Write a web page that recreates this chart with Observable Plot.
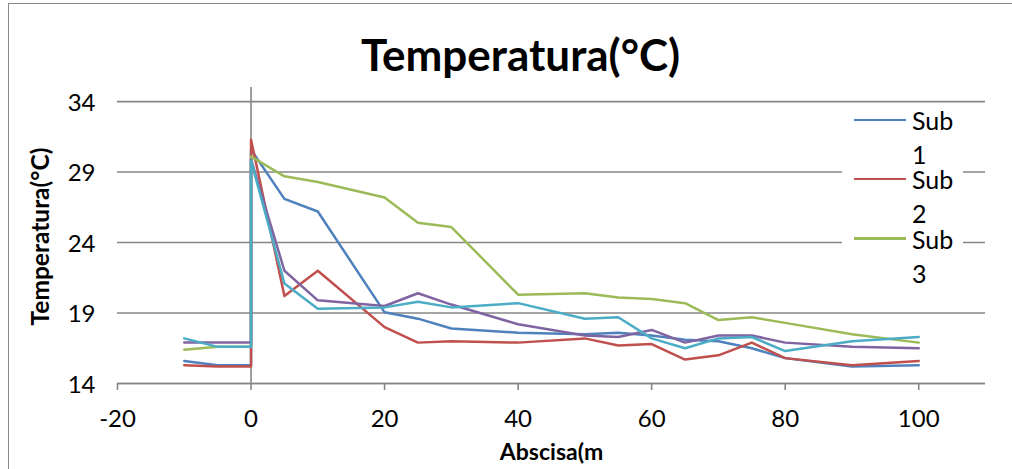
<!DOCTYPE html>
<html>
<head>
<meta charset="utf-8">
<script src="https://cdn.jsdelivr.net/npm/d3@7"></script>
<script src="https://cdn.jsdelivr.net/npm/@observablehq/plot@0.6"></script>
<style>
  html, body { margin: 0; padding: 0; background: #fff; overflow: hidden; width: 1012px; height: 469px; }
  #chart { position: relative; width: 1012px; height: 469px; font-family: Lato, "Open Sans", sans-serif; }
  #chart svg { position: absolute; left: 0; top: 0; }
  #border { position: absolute; left: 8px; top: 3px; width: 1100px; height: 600px;
            border-left: 1.5px solid #8a8a8a; border-top: 1.5px solid #8a8a8a; }
  #legend { position: absolute; left: 842px; top: 104px; width: 121px; height: 186px; background: #fff; }
  .swatch { position: absolute; left: 12px; width: 52px; height: 2.5px; }
  .name { position: absolute; left: 70px; width: 48px; font-size: 25px; line-height: 34px; color: #000; }
</style>
</head>
<body>
<div id="chart"><div id="border"></div></div>
<script>
// Distance along the section (m); the profile is sampled twice at 0 m
const abscisa = [-10, -5, 0, 0, 5, 10, 20, 25, 30, 40, 50, 55, 60, 65, 70, 75, 80, 90, 100];

// Temperature (°C) of each substation along the section
const sub1 = [15.6, 15.3, 15.3, 30.6, 27.1, 26.2, 19.05, 18.6, 17.9, 17.6, 17.5, 17.6, 17.4, 17.1, 17.0, 16.5, 15.8, 15.2, 15.3];
const sub2 = [15.3, 15.2, 15.2, 31.3, 20.2, 22.0, 18.0, 16.9, 17.0, 16.9, 17.2, 16.7, 16.8, 15.7, 16.0, 16.9, 15.8, 15.3, 15.6];
const sub3 = [16.4, 16.6, 16.6, 30.1, 28.7, 28.3, 27.2, 25.4, 25.1, 20.3, 20.4, 20.1, 20.0, 19.7, 18.5, 18.7, 18.3, 17.5, 16.9];
const sub4 = [16.9, 16.9, 16.9, 29.9, 22.0, 19.9, 19.5, 20.4, 19.6, 18.2, 17.4, 17.3, 17.8, 16.9, 17.4, 17.4, 16.9, 16.6, 16.5];
const sub5 = [17.2, 16.6, 16.6, 29.8, 21.1, 19.3, 19.4, 19.8, 19.4, 19.7, 18.6, 18.7, 17.2, 16.5, 17.2, 17.3, 16.3, 17.0, 17.3];

const seriesNames = ["Sub 1", "Sub 2", "Sub 3", "Sub 4", "Sub 5"];
const seriesColors = ["#4f81bd", "#c0504d", "#9bbb59", "#8064a2", "#4bacc6"];
const legendNames = seriesNames.slice(0, 3);

const yTicks = [14, 19, 24, 29, 34];
const xTicks = [-20, 0, 20, 40, 60, 80, 100];

const chartTitle = "Temperatura(°C)";
const yTitle = "Temperatura(°C)";
const xTitle = "Abscisa(m";

const seriesValues = [sub1, sub2, sub3, sub4, sub5];
const rows = seriesValues.flatMap((vals, s) =>
  vals.map((t, i) => ({series: seriesNames[s], x: abscisa[i], t}))
);

const gray = "#868686";
const plain = d => String(d);

const plot = Plot.plot({
  width: 1012,
  height: 469,
  marginLeft: 117,
  marginRight: 27,
  marginTop: 87,
  marginBottom: 86,
  style: {fontFamily: "Lato, 'Open Sans', sans-serif", fontSize: "23px", color: "#000", background: "transparent"},
  x: {domain: [-20, 110]},
  y: {domain: [14, 35]},
  color: {domain: seriesNames, range: seriesColors},
  marks: [
    Plot.gridY(yTicks, {stroke: gray, strokeOpacity: 1, strokeWidth: 1.6}),
    Plot.axisY(yTicks, {tickSize: 0, tickPadding: 22, dy: 1.5, label: null, fontSize: 24, fill: "#000", tickFormat: plain}),
    Plot.ruleY([14], {stroke: gray, strokeWidth: 1.6}),
    Plot.axisX(xTicks, {tickSize: 7, tickPadding: 19, stroke: gray, strokeWidth: 1.6, label: null, fontSize: 24, fill: "#000", tickFormat: plain}),
    Plot.ruleX([0], {stroke: gray, strokeWidth: 1.6}),
    Plot.line(rows, {x: "x", y: "t", z: "series", stroke: "series", strokeWidth: 2.5, strokeLinejoin: "round", sort: null}),
    Plot.text([chartTitle], {frameAnchor: "top", lineAnchor: "middle", textAnchor: "middle", dx: -31, dy: -31, fontSize: 44, fontWeight: "bold", fill: "#000"}),
    Plot.text([yTitle], {frameAnchor: "left", lineAnchor: "middle", textAnchor: "middle", rotate: -90, dx: -76, dy: 1, fontSize: 24.5, fontWeight: "bold", fill: "#000"}),
    Plot.text([xTitle], {frameAnchor: "bottom", lineAnchor: "middle", textAnchor: "middle", dy: 69, fontSize: 23, fontWeight: "bold", fill: "#000"})
  ]
});

const chart = document.getElementById("chart");
chart.appendChild(plot);

// Legend box (first three series), drawn over the plot area
const legend = document.createElement("div");
legend.id = "legend";
legendNames.forEach((name, i) => {
  const top = i * 59.3;
  const sw = document.createElement("div");
  sw.className = "swatch";
  sw.style.top = (top + 14.5) + "px";
  sw.style.background = seriesColors[seriesNames.indexOf(name)];
  const label = document.createElement("div");
  label.className = "name";
  label.style.top = (top - 1) + "px";
  label.textContent = name;
  legend.appendChild(sw);
  legend.appendChild(label);
});
chart.appendChild(legend);
</script>
</body>
</html>
